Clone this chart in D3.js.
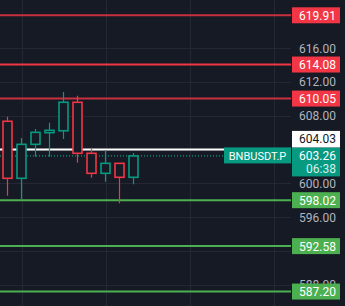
<!DOCTYPE html>
<html>
<head>
<meta charset="utf-8">
<script src="https://cdn.jsdelivr.net/npm/d3@7"></script>
<style>
  html, body { margin: 0; padding: 0; background: #161a25; }
  svg { display: block; }
</style>
</head>
<body>
<div id="chart"></div>
<script>
// candles (oldest first)
var opens  = [607.36, 600.61, 604.63, 606.01, 606.24, 609.61, 603.57, 601.20, 602.38, 600.73];
var highs  = [607.90, 605.38, 606.45, 607.19, 610.83, 610.39, 604.23, 603.96, 602.38, 603.60];
var lows   = [598.55, 598.12, 603.17, 603.17, 605.26, 602.45, 600.68, 600.21, 597.65, 599.90];
var closes = [600.61, 604.63, 606.05, 606.29, 609.61, 603.57, 601.20, 602.38, 600.73, 603.26];

// horizontal levels
var redLevels   = [619.91, 614.08, 610.05];
var greenLevels = [598.02, 592.58, 587.20];
var lastClose = 604.03;
var lastPrice = 603.26;
var countdown = "06:38";
var symbol = "BNBUSDT.P";

var priceTicks = [620, 616, 612, 608, 604, 600, 596, 592, 588];
var timeGrid = [1, 7, 13, 19];

var w = 345, h = 306;
var plotRight = 291;
var bg = "#161a25";
var up = "#089981", down = "#f23645";

var svg = d3.select("#chart").append("svg")
    .attr("width", w)
    .attr("height", h);

svg.append("rect").attr("width", w).attr("height", h).attr("fill", bg);

var y = d3.scaleLinear().domain([585.49, 621.72]).range([h, 0]);
var x = d3.scaleLinear().domain([0, 1]).range([7.5, 21.5]);

// grid
svg.selectAll("line.hgrid")
    .data(priceTicks)
    .enter()
    .append("line")
    .attr("class", "hgrid")
    .attr("x1", 0).attr("x2", plotRight)
    .attr("y1", function(d) { return Math.round(y(d)) + 0.5; })
    .attr("y2", function(d) { return Math.round(y(d)) + 0.5; })
    .attr("stroke", "#252834");

svg.selectAll("line.vgrid")
    .data(timeGrid)
    .enter()
    .append("line")
    .attr("class", "vgrid")
    .attr("x1", function(d) { return Math.round(x(d)) + 0.5; })
    .attr("x2", function(d) { return Math.round(x(d)) + 0.5; })
    .attr("y1", 0).attr("y2", h)
    .attr("stroke", "#252834");

// level lines
var levels = redLevels.map(function(d, i) {
    return { v: d, line: i === 1 ? "#f23645" : "#c7313e", box: "#f23645", txt: "#fff" };
}).concat(greenLevels.map(function(d) {
    return { v: d, line: "#4caf50", box: "#4caf50", txt: "#fff" };
}));

var curTop = y(lastPrice) - 8.5;

// price axis labels (ones sitting under a label box are hidden, like the original)
var shownTicks = priceTicks.filter(function(t) {
    var ty = y(t);
    if (ty > curTop - 17 && ty < curTop + 29) return false;
    return !levels.some(function(l) { return Math.abs(ty - y(l.v)) < 6; });
});
var axis = d3.axisRight(y).tickValues(shownTicks).tickSize(0)
    .tickFormat(d3.format(".2f"));
var gAxis = svg.append("g").attr("transform", "translate(" + plotRight + ",0)").call(axis);
gAxis.select(".domain").remove();
gAxis.selectAll("text")
    .attr("x", 45)
    .attr("text-anchor", "end")
    .attr("fill", "#b2b5be")
    .attr("font-family", "Roboto, sans-serif")
    .attr("font-size", "12px");

svg.selectAll("line.level")
    .data(levels)
    .enter()
    .append("line")
    .attr("class", "level")
    .attr("x1", 0)
    .attr("x2", plotRight)
    .attr("y1", function(d) { return y(d.v); })
    .attr("y2", function(d) { return y(d.v); })
    .attr("stroke", function(d) { return d.line; })
    .attr("stroke-width", 2);

// previous close line (white)
svg.append("line")
    .attr("x1", 0).attr("x2", 224)
    .attr("y1", y(lastClose)).attr("y2", y(lastClose))
    .attr("stroke", "#ffffff")
    .attr("stroke-width", 2);

// last price dotted line
svg.append("line")
    .attr("x1", 0).attr("x2", 224)
    .attr("y1", y(lastPrice)).attr("y2", y(lastPrice))
    .attr("stroke", up)
    .attr("stroke-width", 1.2)
    .attr("stroke-dasharray", "1,2");

// candles
var idx = d3.range(opens.length);
var candles = svg.append("g");

candles.selectAll("line.wick")
    .data(idx)
    .enter()
    .append("line")
    .attr("class", "wick")
    .attr("x1", function(i) { return x(i); })
    .attr("x2", function(i) { return x(i); })
    .attr("y1", function(i) { return y(highs[i]); })
    .attr("y2", function(i) { return y(lows[i]); })
    .attr("stroke", function(i) { return closes[i] >= opens[i] ? up : down; })
    .attr("stroke-width", 1.2);

candles.selectAll("rect.body")
    .data(idx)
    .enter()
    .append("rect")
    .attr("class", "body")
    .attr("x", function(i) { return x(i) - 4.5; })
    .attr("width", 9)
    .attr("y", function(i) { return y(Math.max(opens[i], closes[i])); })
    .attr("height", function(i) { return Math.max(1, Math.abs(y(opens[i]) - y(closes[i]))); })
    .attr("fill", bg)
    .attr("stroke", function(i) { return closes[i] >= opens[i] ? up : down; })
    .attr("stroke-width", 1.6);

// level label boxes
var boxes = svg.selectAll("g.lbl")
    .data(levels)
    .enter()
    .append("g")
    .attr("class", "lbl")
    .attr("transform", function(d) { return "translate(292," + (y(d.v) - 8) + ")"; });

boxes.append("rect")
    .attr("width", 48).attr("height", 16)
    .attr("fill", function(d) { return d.box; });

boxes.append("text")
    .attr("x", 44).attr("y", 12.5)
    .attr("text-anchor", "end")
    .attr("fill", function(d) { return d.txt; })
    .attr("font-family", "Roboto, sans-serif")
    .attr("font-size", "12px")
    .text(function(d) { return d3.format(".2f")(d.v); });

// current price box with countdown
var cur = svg.append("g").attr("transform", "translate(292," + curTop + ")");
cur.append("rect").attr("width", 48).attr("height", 29).attr("fill", up);
cur.append("text")
    .attr("x", 44).attr("y", 12.5)
    .attr("text-anchor", "end")
    .attr("fill", "#fff")
    .attr("font-family", "Roboto, sans-serif")
    .attr("font-size", "12px")
    .text(d3.format(".2f")(lastPrice));
cur.append("text")
    .attr("x", 44).attr("y", 26)
    .attr("text-anchor", "end")
    .attr("fill", "#d6eee9")
    .attr("font-family", "Roboto, sans-serif")
    .attr("font-size", "12px")
    .text(countdown);

// previous close box, pushed up above the current price box
var pc = svg.append("g").attr("transform", "translate(292," + (curTop - 16.5) + ")");
pc.append("rect").attr("width", 48).attr("height", 16.5).attr("fill", "#ffffff");
pc.append("text")
    .attr("x", 44).attr("y", 12.5)
    .attr("text-anchor", "end")
    .attr("fill", "#131722")
    .attr("font-family", "Roboto, sans-serif")
    .attr("font-size", "12px")
    .text(d3.format(".2f")(lastClose));

// symbol tag
var tag = svg.append("g").attr("transform", "translate(224," + curTop + ")");
tag.append("rect").attr("width", 67).attr("height", 16).attr("fill", up);
tag.append("text")
    .attr("x", 33.5).attr("y", 12.3)
    .attr("text-anchor", "middle")
    .attr("fill", "#fff")
    .attr("font-family", "Roboto, sans-serif")
    .attr("font-size", "11px")
    .text(symbol);
</script>
</body>
</html>
